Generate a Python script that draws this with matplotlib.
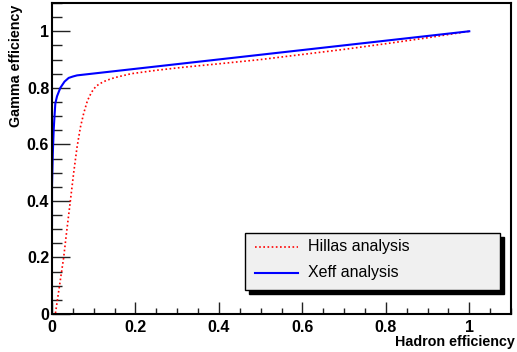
import matplotlib
matplotlib.use("Agg")
import matplotlib.pyplot as plt
from matplotlib.ticker import MultipleLocator, FormatStrFormatter
from matplotlib.patches import Rectangle
from matplotlib.lines import Line2D

plt.rcParams['font.family'] = ['Liberation Sans', 'DejaVu Sans']

#%% Data

hadron_hillas = [0.0, 0.008, 0.015, 0.022, 0.028, 0.035, 0.044, 0.052, 0.06, 0.068,
                 0.076, 0.085, 0.095, 0.105, 0.115, 0.13, 0.15, 0.19, 0.25, 0.31,
                 0.4, 0.5, 0.6, 0.7, 0.8, 0.9, 1.0]
gamma_hillas = [0.0, 0.0, 0.07, 0.14, 0.2, 0.29, 0.4, 0.5, 0.59, 0.66,
                0.71, 0.755, 0.785, 0.805, 0.815, 0.826, 0.836, 0.85, 0.862, 0.872,
                0.885, 0.9, 0.918, 0.936, 0.956, 0.977, 1.0]

hadron_xeff = [0.0, 0.0, 0.002, 0.004, 0.006, 0.008, 0.012, 0.02, 0.03, 0.04, 0.05, 0.06, 1.0]
gamma_xeff = [0.315, 0.45, 0.57, 0.65, 0.70, 0.745, 0.77, 0.80, 0.822, 0.835, 0.840, 0.844, 1.0]

labels = ["Hillas analysis", "Xeff analysis"]

#%% Figure

fig = plt.figure(figsize=(5.17, 3.52), dpi=100)
ax = fig.add_axes([52 / 517, 38 / 352, 459 / 517, 311 / 352])

ax.plot(hadron_hillas, gamma_hillas, color='red', lw=1.2, linestyle=(0, (1, 1.5)))
ax.plot(hadron_xeff, gamma_xeff, color='blue', lw=1.5)

ax.set_xlim(0, 1.1)
ax.set_ylim(0, 1.1)

# ticks facon ROOT : vers l'interieur, seulement a gauche et en bas
for axis in (ax.xaxis, ax.yaxis):
    axis.set_major_locator(MultipleLocator(0.2))
    axis.set_minor_locator(MultipleLocator(0.05))
    axis.set_major_formatter(FormatStrFormatter('%g'))
ax.tick_params(which='both', direction='in', width=1, color='#222222', labelsize=11.5)
ax.tick_params(axis='x', which='major', length=9, pad=4)
ax.tick_params(axis='x', which='minor', length=4.5)
ax.tick_params(axis='y', which='major', length=13, pad=2)
ax.tick_params(axis='y', which='minor', length=7)
for lab in ax.get_xticklabels() + ax.get_yticklabels():
    lab.set_fontweight('bold')
for sp in ax.spines.values():
    sp.set_linewidth(1.5)

ax.set_xlabel("Hadron efficiency", fontsize=10.3, fontweight='bold', loc='right')
ax.xaxis.set_label_coords(1.009, -0.066)
ax.set_ylabel("Gamma efficiency", fontsize=10.3, fontweight='bold', loc='top')
ax.yaxis.set_label_coords(-0.063, 0.994)

#%% Legende (boite grise avec ombre)

x0, y0, w, h = 245 / 517, 62 / 352, 255 / 517, 57 / 352
dx, dy = 4 / 517, 4 / 352
fig.patches.append(Rectangle((x0 + dx, y0 - dy), w, h, transform=fig.transFigure,
                             facecolor='black', edgecolor='black', zorder=5))
fig.patches.append(Rectangle((x0, y0), w, h, transform=fig.transFigure,
                             facecolor='#f0f0f0', edgecolor='black', lw=1, zorder=6))
ys = [105 / 352, 79 / 352]
styles = [dict(color='red', lw=1.2, linestyle=(0, (1, 1.5))), dict(color='blue', lw=1.5)]
for yy, lab, st in zip(ys, labels, styles):
    fig.lines.append(Line2D([255 / 517, 298 / 517], [yy, yy], transform=fig.transFigure,
                            zorder=7, **st))
    fig.text(308 / 517, yy, lab, fontsize=11.5, va='center', ha='left', zorder=7)

fig.savefig("out.png", dpi=100)
